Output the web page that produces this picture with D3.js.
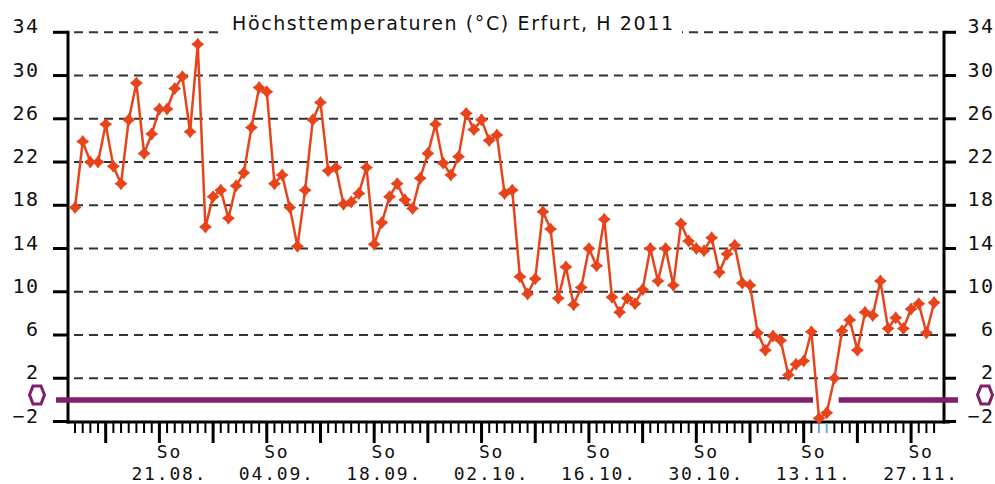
<!DOCTYPE html>
<html><head><meta charset="utf-8">
<script src="https://cdn.jsdelivr.net/npm/d3@7"></script>
<style>html,body{margin:0;padding:0;background:#fff;} svg{display:block;}</style>
</head><body><svg id="c" width="995" height="484"></svg>
<script>
const title = "Höchsttemperaturen (°C) Erfurt, H 2011";
const startDate = "2011-08-10";
const tempMax = [
  17.8, 23.9, 22.0, 22.0, 25.5, 21.6, 20.0, 25.9, 29.3, 22.8,
  24.6, 26.9, 26.9, 28.8, 29.9, 24.8, 32.9, 16.0, 18.8, 19.4,
  16.8, 19.8, 21.0, 25.2, 28.9, 28.5, 20.0, 20.8, 17.8, 14.2,
  19.4, 25.9, 27.5, 21.2, 21.5, 18.1, 18.3, 19.1, 21.5, 14.4,
  16.4, 18.8, 20.0, 18.5, 17.7, 20.5, 22.8, 25.5, 21.9, 20.8,
  22.5, 26.5, 25.0, 25.9, 24.0, 24.5, 19.1, 19.4, 11.4, 9.8,
  11.2, 17.4, 15.8, 9.4, 12.3, 8.8, 10.4, 14.0, 12.4, 16.7,
  9.5, 8.1, 9.4, 8.9, 10.2, 14.0, 11.0, 14.0, 10.6, 16.3,
  14.7, 14.0, 13.8, 15.0, 11.8, 13.5, 14.3, 10.8, 10.6, 6.2,
  4.6, 5.9, 5.5, 2.3, 3.3, 3.6, 6.3, -1.7, -1.2, 2.0,
  6.4, 7.4, 4.6, 8.1, 7.8, 11.0, 6.6, 7.6, 6.6, 8.4,
  8.9, 6.2, 9.0
];
const yTickValues = [-2, 2, 6, 10, 14, 18, 22, 26, 30, 34];
const gridValues = [2, 6, 10, 14, 18, 22, 26, 30, 34];
const sundayLabel = "So";

const svg = d3.select("#c");
const t0 = d3.utcParse("%Y-%m-%d")(startDate);
const data = tempMax.map((v, i) => ({date: d3.utcDay.offset(t0, i), v}));
const tEnd = data[data.length - 1].date;

const x = d3.scaleUtc()
  .domain([d3.utcHour.offset(t0, -22), d3.utcHour.offset(tEnd, 31)])
  .range([68, 944]);
const y = d3.scaleLinear().domain([-2, 34]).range([421.5, 32.3]);

const LEFT = x.range()[0], RIGHT = x.range()[1];
const monoFont = "'DejaVu Sans Mono', 'Liberation Mono', monospace";

// grid
svg.append("g").selectAll("line").data(gridValues).join("line")
  .attr("x1", LEFT + 6).attr("x2", RIGHT - 4)
  .attr("y1", d => y(d)).attr("y2", d => y(d))
  .attr("stroke", "#333").attr("stroke-width", 2)
  .attr("stroke-dasharray", "9,6");

// title
svg.append("rect").attr("x", 222).attr("y", 4).attr("width", 460).attr("height", 32).attr("fill", "#fff");
svg.append("text").attr("x", 452.5).attr("y", 30)
  .attr("text-anchor", "middle")
  .attr("font-family", "'DejaVu Sans', Verdana, sans-serif")
  .attr("font-size", 19).attr("fill", "#111")
  .attr("textLength", 441).attr("lengthAdjust", "spacing")
  .text(title);

// axes lines
const axG = svg.append("g");
[LEFT, RIGHT].forEach(ax => {
  axG.append("line").attr("x1", ax).attr("x2", ax)
    .attr("y1", y(34) - 1.5).attr("y2", y(-2) + 2)
    .attr("stroke", "#000").attr("stroke-width", 3);
});
axG.append("line").attr("x1", LEFT - 1.5).attr("x2", RIGHT + 6)
  .attr("y1", y(-2) + 0.5).attr("y2", y(-2) + 0.5)
  .attr("stroke", "#000").attr("stroke-width", 3);

// y ticks & labels
axG.selectAll(".lt").data(yTickValues).join("line")
  .attr("x1", LEFT - 15).attr("x2", LEFT)
  .attr("y1", d => y(d)).attr("y2", d => y(d))
  .attr("stroke", "#000").attr("stroke-width", 3);
axG.selectAll(".rt").data(yTickValues).join("line")
  .attr("x1", RIGHT).attr("x2", RIGHT + 12)
  .attr("y1", d => y(d)).attr("y2", d => y(d))
  .attr("stroke", "#000").attr("stroke-width", 3);
const fmtY = d => d < 0 ? "\u2212" + Math.abs(d) : String(d);
axG.selectAll(".ll").data(yTickValues).join("text")
  .attr("x", 39.5).attr("y", d => y(d) + 1)
  .attr("text-anchor", "end").attr("font-family", monoFont)
  .attr("font-size", 20).attr("letter-spacing", 1.5).attr("fill", "#111")
  .text(fmtY);
axG.selectAll(".rl").data(yTickValues).join("text")
  .attr("x", 994.5).attr("y", d => y(d) + 1)
  .attr("text-anchor", "end").attr("font-family", monoFont)
  .attr("font-size", 20).attr("letter-spacing", 1.5).attr("fill", "#111")
  .text(fmtY);

// x ticks: daily minor ticks, Sunday long ticks
const xBase = y(-2) + 1.5;
axG.selectAll(".dt").data(data).join("line")
  .attr("x1", d => x(d.date)).attr("x2", d => x(d.date))
  .attr("y1", xBase).attr("y2", xBase + 10)
  .attr("stroke", d => d.v < 0 ? "#6aaaf0" : "#000").attr("stroke-width", 2);
const sundays = d3.utcSunday.range(t0, d3.utcDay.offset(tEnd, 1));
axG.selectAll(".st").data(sundays).join("line")
  .attr("x1", d => x(d)).attr("x2", d => x(d))
  .attr("y1", xBase).attr("y2", xBase + 20)
  .attr("stroke", "#000").attr("stroke-width", 3);
const labelled = sundays.filter((d, i) => i % 2 === 1);
const fmtD = d3.utcFormat("%d.%m.");
axG.selectAll(".sl").data(labelled).join("text")
  .attr("x", d => x(d) + 10).attr("y", 458)
  .attr("text-anchor", "middle").attr("font-family", monoFont)
  .attr("font-size", 18).attr("letter-spacing", 1.8).attr("fill", "#111")
  .text(sundayLabel);
axG.selectAll(".dl").data(labelled).join("text")
  .attr("x", d => x(d) + 10).attr("y", 479.5)
  .attr("text-anchor", "middle").attr("font-family", monoFont)
  .attr("font-size", 18).attr("letter-spacing", 1.8).attr("fill", "#111")
  .text(d => fmtD(d));

// zero (frost) line with gap where values fall below 0
const purple = "#7e206b";
const neg = data.filter(d => d.v < 0);
const segs = [];
if (neg.length) {
  segs.push([56, x(neg[0].date) - 6]);
  segs.push([x(neg[neg.length - 1].date) + 12, 958]);
} else segs.push([56, 958]);
svg.append("g").selectAll("line").data(segs).join("line")
  .attr("x1", d => d[0]).attr("x2", d => d[1])
  .attr("y1", y(0)).attr("y2", y(0))
  .attr("stroke", purple).attr("stroke-width", 5.5);
const hex = "M-4,-9L4,-9L7.5,0L4,9L-4,9L-7.5,0Z";
[37, 985].forEach(cx => {
  svg.append("path").attr("d", hex)
    .attr("transform", `translate(${cx},${y(0) - 5})`)
    .attr("fill", "none").attr("stroke", purple).attr("stroke-width", 3);
});

// temperature line
const red = "#e8441c";
svg.append("path").datum(data)
  .attr("d", d3.line().x(d => x(d.date)).y(d => y(d.v)))
  .attr("fill", "none").attr("stroke", red).attr("stroke-width", 2.5)
  .attr("stroke-linejoin", "round");
const marker = "M0,-6.5L2.8,-2.8L6.5,0L2.8,2.8L0,6.5L-2.8,2.8L-6.5,0L-2.8,-2.8Z";
svg.append("g").selectAll("path").data(data).join("path")
  .attr("d", marker)
  .attr("transform", d => `translate(${x(d.date)},${y(d.v)})`)
  .attr("fill", red);
</script></body></html>
